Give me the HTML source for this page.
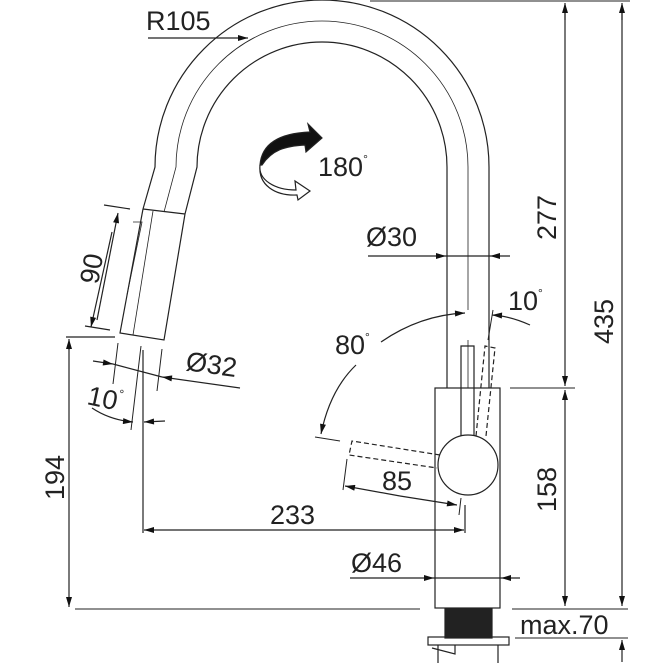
<!DOCTYPE html>
<html><head><style>html,body{margin:0;padding:0;background:#fff}svg{display:block}text{font-family:"Liberation Sans",Arial,sans-serif;fill:#222}</style></head>
<body>
<svg width="663" height="663" viewBox="0 0 663 663" xmlns="http://www.w3.org/2000/svg">
<defs>
<marker id="a" viewBox="0 0 10 6" refX="10" refY="3" markerWidth="11" markerHeight="6" orient="auto" markerUnits="userSpaceOnUse"><path d="M0,0L10,3L0,6z" fill="#111"/></marker>
</defs>
<g fill="none" stroke="#222" stroke-width="1.2">
<path d="M489,388 L489,167 A167,167 0 0 0 155,167 L143,209"/>
<path d="M447,388 L447,167 A125,125 0 0 0 197,167 L185,214"/>
<path d="M468,388 L468,340 M468,310 L468,167 A146,146 0 0 0 176,167 L164,212" stroke-width="0.8"/>
<path d="M143,209 L185,214 M143,209 L120,333 L164,340 L185,214"/>
<path d="M153,211 L133,335" stroke-width="0.8"/>
<path d="M133,222 L142,222 L127,295" stroke-width="0.8"/>
<rect x="435" y="388" width="65" height="220"/>
<circle cx="468" cy="465" r="30" fill="#fff"/>
<path d="M461,436 L461,346 L474,346 L474,436"/>
<path d="M476,436 L485,346 L495,348 L486,436" stroke-dasharray="5,3"/>
<path d="M440,455 L352,441 L349,455 L437,468" stroke-dasharray="5,3"/>
<rect x="445" y="609" width="47" height="29" fill="#222"/>
<rect x="428" y="637" width="81" height="8"/>
<path d="M438,645 L438,663 M498,645 L498,663 M432,648 L455,654 L455,645"/>
<path d="M370,1 L630,1" stroke-width="1"/>
<path d="M565,5 L565,386" marker-end="url(#a)"/>
<path d="M565,20 L565,3" marker-end="url(#a)"/>
<path d="M510,388 L575,388" stroke-width="1"/>
<path d="M565,395 L565,606" marker-end="url(#a)"/>
<path d="M565,400 L565,390" marker-end="url(#a)"/>
<path d="M622,5 L622,606" marker-end="url(#a)"/>
<path d="M622,20 L622,3" marker-end="url(#a)"/>
<path d="M75,609 L420,609 M512,609 L628,609 M515,638 L628,638" stroke-width="1"/>
<path d="M622,662 L622,640" marker-end="url(#a)"/>
<path d="M66,337 L115,337"/>
<path d="M69,345 L69,607" marker-end="url(#a)"/>
<path d="M69,350 L69,339" marker-end="url(#a)"/>
<path d="M143,350 L143,533 M465,505 L465,533"/>
<path d="M300,530 L144,530" marker-end="url(#a)"/>
<path d="M300,530 L464,530" marker-end="url(#a)"/>
<path d="M350,578 L434,578" marker-end="url(#a)"/>
<path d="M520,578 L501,578" marker-end="url(#a)"/>
<path d="M434,578 L501,578"/>
<path d="M368,256 L446,256" marker-end="url(#a)"/>
<path d="M510,256 L490,256" marker-end="url(#a)"/>
<path d="M446,256 L490,256"/>
<path d="M148,38 L248,38" marker-end="url(#a)"/>
<path d="M104,205 L130,209 M85,326 L110,330"/>
<path d="M97,320 L118,213" marker-end="url(#a)"/>
<path d="M112,232 L91,327" marker-end="url(#a)"/>
<path d="M118,343 L113,384 M162,349 L157,391" stroke-width="1"/>
<path d="M93,361 L113,364" marker-end="url(#a)"/>
<path d="M240,388 L162,377" marker-end="url(#a)"/>
<path d="M113,364 L162,377"/>
<path d="M141,346 L131,430 M143,350 L143,430" stroke-width="1"/>
<path d="M92,408 Q110,420 133,422" marker-end="url(#a)"/>
<path d="M165,421 L144,422" marker-end="url(#a)"/>
<path d="M381,342 Q420,315 465,313" marker-end="url(#a)"/>
<path d="M530,325 Q510,316 492,315" marker-end="url(#a)"/>
<path d="M493,310 L488,340" stroke-width="1"/>
<path d="M356,365 Q330,390 321,434" marker-end="url(#a)"/>
<path d="M315,437 L340,441" stroke-width="1"/>
<path d="M347,459 L343,490 M461,498 L459,515" stroke-width="1"/>
<path d="M400,496 L345,486" marker-end="url(#a)"/>
<path d="M400,496 L457,505" marker-end="url(#a)"/>
<path d="M260,165 C262,140 285,133 310,132 L308,124 L322,138 L306,152 L305,145 C285,146 272,150 262,165 Z" fill="#111"/>
<path d="M260,165 C258,180 275,190 296,190 L295,181 L310,191 L298,200 L297,195 C275,196 258,185 260,165 Z" fill="#fff"/>
</g>
<g font-size="27">
<text x="146" y="30">R105</text>
<text x="318" y="176">180<tspan font-size="12" dy="-13">°</tspan></text>
<text x="366" y="246">Ø30</text>
<text x="508" y="310">10<tspan font-size="12" dy="-13">°</tspan></text>
<text x="335" y="354">80<tspan font-size="12" dy="-13">°</tspan></text>
<text x="382" y="490">85</text>
<text x="270" y="524">233</text>
<text x="351" y="572">Ø46</text>
<text x="520" y="634">max.70</text>
<text x="185" y="370" transform="rotate(8 185 370)">Ø32</text>
<text x="86" y="404" transform="rotate(12 86 404)">10<tspan font-size="12" dy="-13">°</tspan></text>
<text transform="translate(98,285) rotate(-80)">90</text>
<text transform="translate(64,500) rotate(-90)">194</text>
<text transform="translate(556,240) rotate(-90)">277</text>
<text transform="translate(556,512) rotate(-90)">158</text>
<text transform="translate(613,344) rotate(-90)">435</text>
</g>
</svg>
</body></html>
